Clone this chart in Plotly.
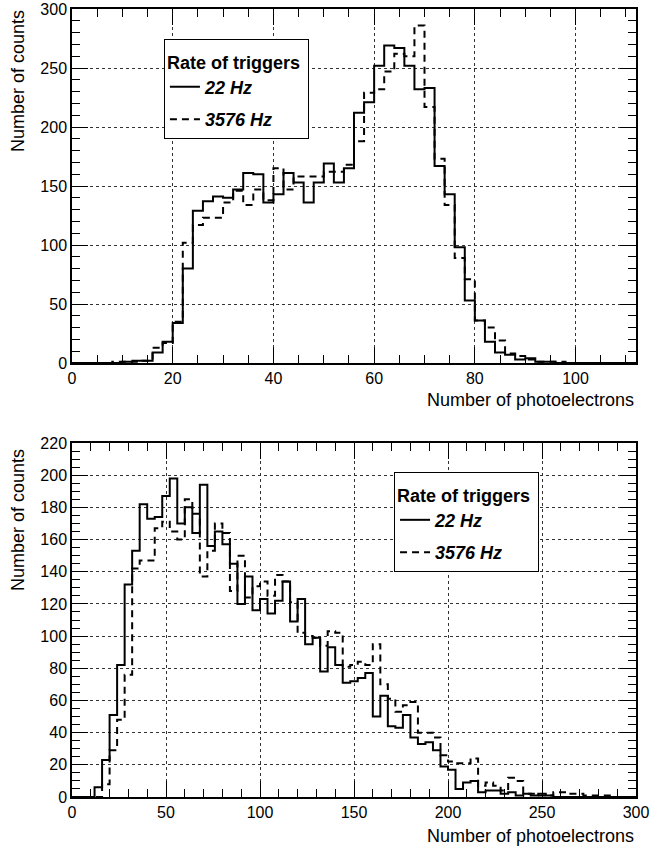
import plotly.graph_objects as go

# ---------------- data ----------------
top_bin_edges_start = 0
top_bin_width = 2
top_22hz = [0, 0, 0, 0, 0, 1, 2, 2, 9, 18, 34, 80, 129, 137, 141, 140,
            147, 161, 160, 136, 143, 161, 153, 136, 153, 169, 153, 165,
            212, 221, 252, 269, 267, 252, 232, 233, 167, 143, 98, 53,
            36, 18, 9, 7, 3, 4, 1, 1, 0, 0, 0, 0, 0, 0, 0, 0]
top_3576hz = [0, 0, 0, 0, 1, 1, 1, 2, 13, 17, 35, 102, 117, 123, 123, 136,
              146, 134, 147, 138, 165, 147, 158, 158, 158, 162, 162, 168,
              188, 229, 232, 247, 262, 260, 286, 217, 173, 134, 89, 71,
              36, 30, 19, 8, 6, 3, 1, 1, 1, 0, 0, 0, 0, 0, 0, 0]

bot_bin_edges_start = 0
bot_bin_width = 4
bot_22hz = [0, 0, 0, 6, 23, 51, 82, 132, 153, 182, 173, 174, 187, 198, 170,
            180, 164, 194, 156, 165, 157, 145, 120, 137, 116, 123, 114, 122,
            134, 109, 123, 95, 99, 78, 93, 82, 71, 72, 74, 77, 50, 63, 44,
            43, 51, 37, 33, 34, 29, 19, 17, 5, 9, 10, 3, 4, 4, 2, 3, 1,
            2, 1, 2, 1, 0, 0, 0, 0, 0, 0, 0, 0, 0, 0, 0]
bot_3576hz = [0, 0, 0, 0, 8, 29, 48, 76, 142, 147, 147, 167, 171, 165, 160,
              185, 176, 137, 153, 170, 164, 128, 150, 124, 131, 134, 125, 138,
              134, 121, 102, 100, 99, 94, 103, 102, 81, 82, 84, 82, 95, 70, 61,
              53, 57, 59, 40, 40, 37, 26, 22, 21, 21, 24, 7, 9, 7, 4, 12, 10,
              2, 2, 1, 1, 3, 3, 2, 2, 1, 1, 1, 1, 0, 0, 0]

series_names = ["22 Hz", "3576 Hz"]
legend_title = "Rate of triggers"
x_title = "Number of photoelectrons"
y_title = "Number of counts"


def step_xy(start, width, counts):
    edges = [start + i * width for i in range(len(counts) + 1)]
    return edges, list(counts) + [counts[-1]]


FONT = "Liberation Sans, Arial, Helvetica, sans-serif"
fig = go.Figure()

for counts, name, dash in [(top_22hz, series_names[0], "solid"),
                           (top_3576hz, series_names[1], "7px,5px")]:
    xs, ys = step_xy(top_bin_edges_start, top_bin_width, counts)
    fig.add_trace(go.Scatter(x=xs, y=ys, mode="lines", line_shape="hv",
                             line=dict(color="black", width=2, dash=dash),
                             name="<b><i>" + name + "</i></b>",
                             xaxis="x", yaxis="y", legend="legend",
                             legendgroup="t" + name))

for counts, name, dash in [(bot_22hz, series_names[0], "solid"),
                           (bot_3576hz, series_names[1], "7px,5px")]:
    xs, ys = step_xy(bot_bin_edges_start, bot_bin_width, counts)
    fig.add_trace(go.Scatter(x=xs, y=ys, mode="lines", line_shape="hv",
                             line=dict(color="black", width=2, dash=dash),
                             name="<b><i>" + name + "</i></b>",
                             xaxis="x2", yaxis="y2", legend="legend2",
                             legendgroup="b" + name))


def axis_common(dtick, minor_dtick, rng):
    return dict(
        range=rng, dtick=dtick, tick0=0, automargin=False,
        ticklabeloverflow="allow",
        showline=True, linecolor="black", linewidth=1.5, mirror="allticks",
        ticks="inside", ticklen=16, tickwidth=1, tickcolor="black",
        minor=dict(dtick=minor_dtick, ticks="inside", ticklen=8,
                   tickcolor="black", tickwidth=1, showgrid=False),
        showgrid=True, gridcolor="#333", griddash="dot", gridwidth=1,
        zeroline=False,
        tickfont=dict(family=FONT, size=16, color="black"),
    )


top_dom = [434 / 788, 1.0]
bot_dom = [0.0, 354 / 788]


def legend_cfg(x, y):
    return dict(x=x, y=y, xanchor="left", yanchor="top",
                bgcolor="white", bordercolor="black", borderwidth=1,
                font=dict(family=FONT, size=18, color="black"),
                title=dict(text="<span style='font-size:18px'><b>"
                                + legend_title + "&nbsp;</b></span>",
                           font=dict(family=FONT, size=22, color="black")),
                tracegroupgap=6, itemwidth=30)


fig.update_layout(
    width=652, height=847,
    margin=dict(l=72, r=16, t=9, b=50, autoexpand=False),
    paper_bgcolor="white", plot_bgcolor="white",
    font=dict(family=FONT, color="black"),
    showlegend=True,
    xaxis=dict(domain=[0, 1], anchor="y", **axis_common(20, 5, [0, 112])),
    yaxis=dict(domain=top_dom, anchor="x", **axis_common(50, 10, [0, 300])),
    xaxis2=dict(domain=[0, 1], anchor="y2", **axis_common(50, 10, [0, 300])),
    yaxis2=dict(domain=bot_dom, anchor="x2", **axis_common(20, 5, [0, 220])),
    legend=legend_cfg(0.163, 0.9620),
    legend2=legend_cfg(0.571, 0.4124),
)

ann_font = dict(family=FONT, size=18, color="black")
fig.add_annotation(text=y_title, textangle=-90, xref="paper", yref="paper",
                   x=-0.096, y=1.001, xanchor="center", yanchor="top",
                   showarrow=False, font=ann_font)
fig.add_annotation(text=y_title, textangle=-90, xref="paper", yref="paper",
                   x=-0.096, y=0.444, xanchor="center", yanchor="top",
                   showarrow=False, font=ann_font)
fig.add_annotation(text=x_title, xref="paper", yref="paper",
                   x=1.0, y=0.5038, xanchor="right", yanchor="middle",
                   showarrow=False, font=ann_font)
fig.add_annotation(text=x_title, xref="paper", yref="paper",
                   x=1.0, y=-0.0495, xanchor="right", yanchor="middle",
                   showarrow=False, font=ann_font)

# Remove the default 8px page margin so the figure fills the window exactly.
fig.write_html("out.html", config={"displayModeBar": False},
               post_script="document.body.style.margin='0px';")
